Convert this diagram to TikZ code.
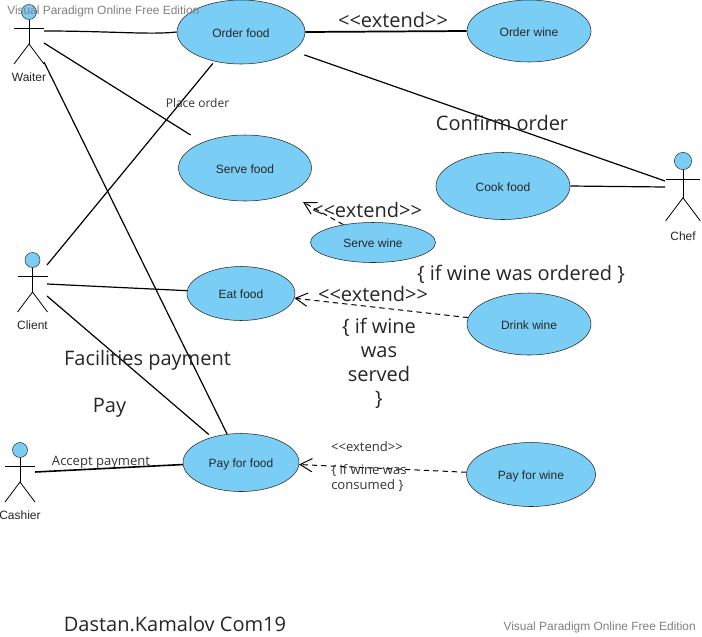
\documentclass[tikz,border=0pt]{standalone}
\usepackage{fontspec}
\setmainfont{Liberation Sans}
\newfontfamily\labelfont{Open Sans}
\usetikzlibrary{arrows.meta,shapes.geometric}

\tikzset{
  usecase/.style={draw=black!85, fill=usecasefill, ellipse, inner sep=0pt, font=\fontsize{9}{11}\selectfont, text=black!85, text height=7.5pt, text depth=0pt},
  actorlabel/.style={font=\fontsize{9}{11}\selectfont, text=black!85},
  biglabel/.style={font=\labelfont\fontsize{15}{18}\selectfont, text=black!85, align=center},
  smalllabel/.style={font=\labelfont\fontsize{9.8}{11.25}\selectfont, text=black!80, align=left},
  watermark/.style={font=\fontsize{8.95}{11}\selectfont, text=black!50},
  assoc/.style={black, line width=0.9pt},
  extendline/.style={black, line width=0.75pt, dash pattern=on 4pt off 3pt, -{Straight Barb[length=9pt,width=10pt]}}
}
\definecolor{usecasefill}{RGB}{122,206,245}

\begin{document}
\begin{tikzpicture}[x=0.75pt, y=-0.75pt]
	\useasboundingbox (0,0) rectangle (702,636);

	% actors
	\foreach \name/\x/\y/\s/\lab in {waiter/29/12/1/Waiter, client/32.5/260/1/Client, cashier/20/450/1/Cashier, chef/683/161/1.15/Chef} {
		\draw[black, line width=0.6pt] (\x, \y+7.5*\s) -- (\x, \y+32*\s);
		\draw[black, line width=0.6pt] (\x-15*\s, \y+16*\s) -- (\x+15*\s, \y+16*\s);
		\draw[black, line width=0.6pt] (\x-15*\s, \y+52*\s) -- (\x, \y+32*\s) -- (\x+15*\s, \y+52*\s);
		\node[draw=black!80, fill=usecasefill, circle, inner sep=0pt, minimum size=11.25pt*\s] (\name) at (\x, \y) {};
		\node[actorlabel] (\name label) at (\x, \y+65.5*\s) {\lab};
	}

	% use cases
	\node[usecase, minimum width=96pt, minimum height=48pt] (orderfood) at (241, 32) {Order food};
	\node[usecase, minimum width=93pt, minimum height=46.5pt] (orderwine) at (529, 31) {Order wine};
	\node[usecase, minimum width=99.75pt, minimum height=49.5pt] (servefood) at (245, 168) {Serve food};
	\node[usecase, minimum width=100.5pt, minimum height=50.25pt] (cookfood) at (503, 186) {Cook food};
	\node[usecase, minimum width=93.75pt, minimum height=30pt] (servewine) at (373, 242.5) {Serve wine};
	\node[usecase, minimum width=81pt, minimum height=40.5pt] (eatfood) at (241, 293.5) {Eat food};
	\node[usecase, minimum width=93pt, minimum height=46.5pt] (drinkwine) at (529, 324) {Drink wine};
	\node[usecase, minimum width=87pt, minimum height=43.5pt] (payfood) at (241, 462.5) {Pay for food};
	\node[usecase, minimum width=96.75pt, minimum height=48pt] (paywine) at (531, 474.5) {Pay for wine};

	% free ends next to the actors
	\coordinate (waiterA) at (44, 31);
	\coordinate (waiterB) at (44, 43);
	\coordinate (waiterC) at (44, 62);
	\coordinate (clientA) at (47, 265);
	\coordinate (clientB) at (47, 284);
	\coordinate (clientC) at (47, 296);
	\coordinate (cashierA) at (35, 472);
	\coordinate (chefA) at (665, 181);
	\coordinate (chefB) at (665, 187);
	\coordinate (servefree) at (303, 202);

	% associations
	\draw[assoc] (waiterA) .. controls (110, 31) and (150, 35) .. (orderfood.west);
	\draw[assoc, shorten >=10.5pt] (waiterB) -- (servefood.149);
	\draw[assoc] (waiterC) -- (payfood.116);
	\draw[assoc, shorten >=2pt] (clientA) -- (orderfood.228);
	\draw[assoc] (clientB) -- (eatfood.177);
	\draw[assoc, shorten >=3pt] (clientC) -- (payfood.139);
	\draw[assoc, line width=1.2pt] (cashierA) -- (payfood.182);
	\draw[assoc, line width=1.3pt] (orderfood.east) -- (orderwine.west);
	\draw[assoc, shorten <=9pt] (orderfood.-20) -- (chefA);
	\draw[assoc] (cookfood.east) -- (chefB);

	% extends
	\draw[extendline] (servewine.149) -- (servefree);
	\draw[extendline] (drinkwine.174) -- (eatfood.-5);
	\draw[extendline] (paywine.178) -- (payfood.-2);

	% texts
	\node[biglabel] (extendA) at (393, 20) {<<extend>>};
	\node[biglabel] (confirm) at (502, 123) {Confirm order};
	\node[biglabel] (extendB) at (367, 210) {<<extend>>};
	\node[biglabel] (ordered) at (521, 274.5) {\{ if wine was ordered \}};
	\node[biglabel] (extendC) at (373, 294) {<<extend>>};
	\node[biglabel, anchor=north] (served) at (379, 313) {\{ if wine\\was\\served\\\}};
	\node[biglabel] (facilities) at (147.5, 360) {Facilities payment};
	\node[biglabel] (pay) at (109.5, 408) {Pay};
	\node[biglabel] (author) at (175, 624) {Dastan.Kamalov Com19};
	\node[smalllabel, font=\labelfont\fontsize{9}{11}\selectfont] (placeorder) at (197.5, 103) {Place order};
	\node[smalllabel] (accept) at (101, 462.5) {Accept payment};
	\node[smalllabel] (extendD) at (367, 447) {<<extend>>};
	\node[smalllabel, anchor=north west, inner sep=0pt] (consumed) at (331, 464.5) {\{ if wine was\\consumed \}};

	% watermarks
	\node[watermark, anchor=west, inner sep=0pt] (markA) at (7, 11) {Visual Paradigm Online Free Edition};
	\node[watermark, anchor=east, inner sep=0pt] (markB) at (696, 627) {Visual Paradigm Online Free Edition};
\end{tikzpicture}
\end{document}
